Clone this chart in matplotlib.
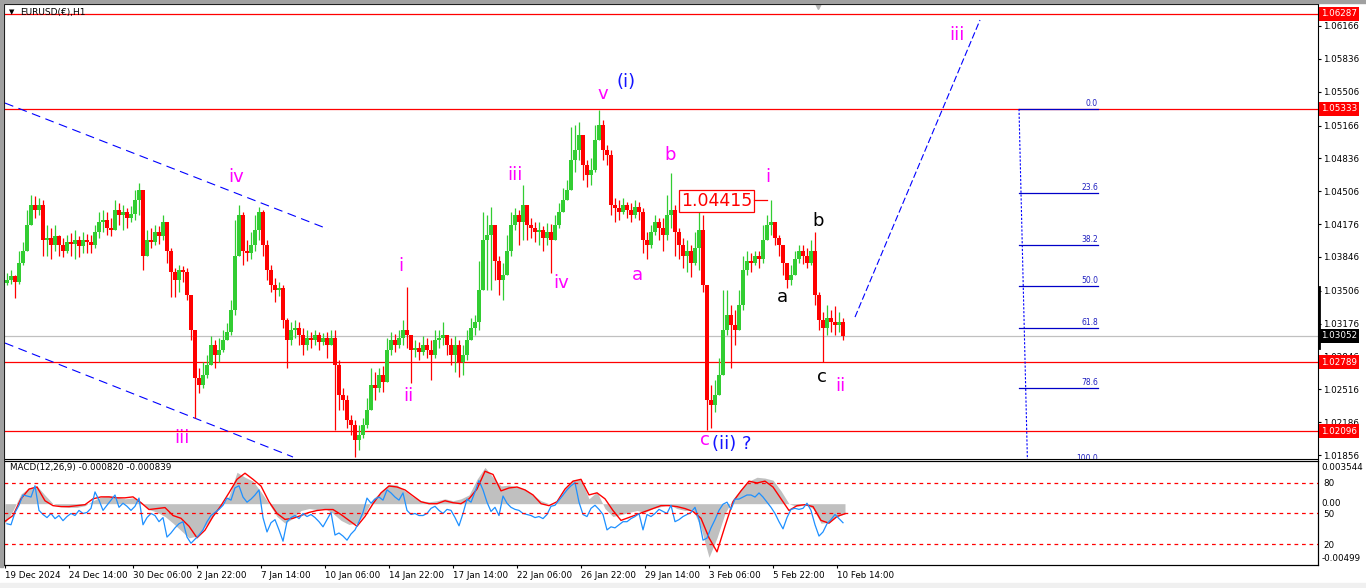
import numpy as np
import matplotlib.pyplot as plt
import matplotlib.transforms as mtransforms
from matplotlib.patches import Rectangle

W, H = 1366, 588

# EURUSD H1 in 4-bar steps (open = previous close)
first_open = 1.0358
close = [
    1.0361, 1.0365, 1.0359, 1.0379, 1.0391, 1.0417, 1.0437, 1.0432, 1.0437, 1.0402,
    1.0404, 1.0397, 1.0406, 1.0397, 1.0391, 1.0400, 1.0398, 1.0402, 1.0396, 1.0402,
    1.0400, 1.0397, 1.0410, 1.0420, 1.0422, 1.0414, 1.0412, 1.0432, 1.0427, 1.0430,
    1.0424, 1.0428, 1.0442, 1.0452, 1.0386, 1.0402, 1.0400, 1.0410, 1.0406, 1.0420,
    1.0391, 1.0369, 1.0361, 1.0371, 1.0369, 1.0346, 1.0311, 1.0263, 1.0256, 1.0266,
    1.0276, 1.0296, 1.0286, 1.0291, 1.0301, 1.0309, 1.0331, 1.0386, 1.0427, 1.0391,
    1.0389, 1.0397, 1.0412, 1.0430, 1.0397, 1.0371, 1.0356, 1.0351, 1.0353, 1.0321,
    1.0301, 1.0311, 1.0313, 1.0306, 1.0296, 1.0303, 1.0301, 1.0306, 1.0299, 1.0303,
    1.0296, 1.0303, 1.0276, 1.0246, 1.0241, 1.0221, 1.0216, 1.0201, 1.0206, 1.0216,
    1.0231, 1.0256, 1.0253, 1.0266, 1.0259, 1.0291, 1.0301, 1.0296, 1.0303, 1.0311,
    1.0306, 1.0291, 1.0293, 1.0289, 1.0296, 1.0291, 1.0286, 1.0301, 1.0303, 1.0306,
    1.0296, 1.0286, 1.0296, 1.0279, 1.0286, 1.0301, 1.0313, 1.0319, 1.0351, 1.0402,
    1.0407, 1.0417, 1.0381, 1.0361, 1.0366, 1.0391, 1.0417, 1.0427, 1.0420, 1.0437,
    1.0417, 1.0414, 1.0410, 1.0412, 1.0404, 1.0410, 1.0402, 1.0417, 1.0430, 1.0442,
    1.0452, 1.0482, 1.0492, 1.0507, 1.0477, 1.0467, 1.0472, 1.0502, 1.0517, 1.0492,
    1.0487, 1.0437, 1.0434, 1.0430, 1.0437, 1.0432, 1.0427, 1.0435, 1.0430, 1.0402,
    1.0397, 1.0410, 1.0420, 1.0414, 1.0407, 1.0427, 1.0432, 1.0410, 1.0397, 1.0386,
    1.0391, 1.0379, 1.0394, 1.0412, 1.0356, 1.0241, 1.0236, 1.0246, 1.0266, 1.0311,
    1.0326, 1.0316, 1.0311, 1.0336, 1.0371, 1.0381, 1.0379, 1.0386, 1.0383, 1.0402,
    1.0417, 1.0420, 1.0404, 1.0397, 1.0379, 1.0361, 1.0366, 1.0383, 1.0391, 1.0386,
    1.0379, 1.0391, 1.0346, 1.0321, 1.0313, 1.0323, 1.0319, 1.0316, 1.0319, 1.0305,
]
high = [
    1.0368, 1.0371, 1.0366, 1.0391, 1.0400, 1.0432, 1.0447, 1.0446, 1.0444, 1.0442,
    1.0417, 1.0414, 1.0417, 1.0407, 1.0404, 1.0407, 1.0409, 1.0412, 1.0406, 1.0410,
    1.0408, 1.0407, 1.0417, 1.0430, 1.0432, 1.0430, 1.0424, 1.0442, 1.0439, 1.0437,
    1.0434, 1.0436, 1.0452, 1.0459, 1.0452, 1.0412, 1.0414, 1.0417, 1.0416, 1.0427,
    1.0420, 1.0394, 1.0373, 1.0376, 1.0375, 1.0373, 1.0341, 1.0311, 1.0273, 1.0279,
    1.0286, 1.0305, 1.0301, 1.0303, 1.0311, 1.0318, 1.0341, 1.0422, 1.0437, 1.0430,
    1.0402, 1.0410, 1.0427, 1.0435, 1.0432, 1.0402, 1.0376, 1.0363, 1.0359, 1.0356,
    1.0323, 1.0319, 1.0321, 1.0319, 1.0313, 1.0311, 1.0309, 1.0311, 1.0309, 1.0308,
    1.0309, 1.0311, 1.0311, 1.0281, 1.0253, 1.0246, 1.0226, 1.0221, 1.0216, 1.0223,
    1.0243, 1.0273, 1.0269, 1.0273, 1.0275, 1.0303, 1.0309, 1.0307, 1.0311, 1.0321,
    1.0354, 1.0306, 1.0301, 1.0299, 1.0305, 1.0303, 1.0301, 1.0311, 1.0311, 1.0319,
    1.0306, 1.0303, 1.0305, 1.0301, 1.0296, 1.0311, 1.0323, 1.0326, 1.0381, 1.0430,
    1.0427, 1.0435, 1.0397, 1.0386, 1.0379, 1.0407, 1.0430, 1.0434, 1.0432, 1.0457,
    1.0437, 1.0424, 1.0420, 1.0420, 1.0416, 1.0419, 1.0418, 1.0427, 1.0439, 1.0454,
    1.0462, 1.0515, 1.0517, 1.0520, 1.0502, 1.0482, 1.0484, 1.0517, 1.0532, 1.0522,
    1.0497, 1.0492, 1.0444, 1.0442, 1.0444, 1.0440, 1.0439, 1.0442, 1.0440, 1.0434,
    1.0410, 1.0417, 1.0427, 1.0424, 1.0424, 1.0447, 1.0469, 1.0437, 1.0414, 1.0404,
    1.0402, 1.0397, 1.0410, 1.0435, 1.0427, 1.0269, 1.0256, 1.0261, 1.0283, 1.0351,
    1.0351, 1.0336, 1.0331, 1.0351, 1.0386, 1.0391, 1.0389, 1.0391, 1.0391, 1.0417,
    1.0427, 1.0442, 1.0417, 1.0407, 1.0397, 1.0376, 1.0376, 1.0391, 1.0397, 1.0397,
    1.0394, 1.0402, 1.0410, 1.0349, 1.0329, 1.0336, 1.0331, 1.0335, 1.0329, 1.0323,
]
low = [
    1.0356, 1.0357, 1.0343, 1.0357, 1.0376, 1.0391, 1.0427, 1.0424, 1.0427, 1.0386,
    1.0386, 1.0383, 1.0391, 1.0386, 1.0385, 1.0389, 1.0386, 1.0383, 1.0385, 1.0389,
    1.0389, 1.0389, 1.0394, 1.0404, 1.0410, 1.0407, 1.0406, 1.0412, 1.0417, 1.0412,
    1.0414, 1.0420, 1.0422, 1.0427, 1.0371, 1.0389, 1.0394, 1.0397, 1.0398, 1.0402,
    1.0379, 1.0344, 1.0344, 1.0349, 1.0359, 1.0341, 1.0301, 1.0223, 1.0248, 1.0253,
    1.0263, 1.0281, 1.0273, 1.0279, 1.0289, 1.0301, 1.0306, 1.0326, 1.0386, 1.0376,
    1.0381, 1.0383, 1.0391, 1.0402, 1.0386, 1.0361, 1.0349, 1.0339, 1.0345, 1.0313,
    1.0273, 1.0296, 1.0303, 1.0296, 1.0286, 1.0291, 1.0293, 1.0296, 1.0291, 1.0296,
    1.0283, 1.0296, 1.0211, 1.0231, 1.0231, 1.0213, 1.0206, 1.0184, 1.0191, 1.0203,
    1.0213, 1.0236, 1.0241, 1.0249, 1.0249, 1.0266, 1.0286, 1.0289, 1.0293, 1.0296,
    1.0293, 1.0258, 1.0284, 1.0281, 1.0286, 1.0283, 1.0261, 1.0283, 1.0293, 1.0296,
    1.0286, 1.0276, 1.0269, 1.0264, 1.0266, 1.0281, 1.0301, 1.0306, 1.0311, 1.0376,
    1.0351, 1.0351, 1.0361, 1.0346, 1.0341, 1.0366, 1.0386, 1.0412, 1.0397, 1.0402,
    1.0402, 1.0404, 1.0400, 1.0397, 1.0391, 1.0397, 1.0368, 1.0402, 1.0414, 1.0432,
    1.0442, 1.0457, 1.0470, 1.0482, 1.0462, 1.0455, 1.0457, 1.0470, 1.0502, 1.0482,
    1.0477, 1.0427, 1.0420, 1.0422, 1.0428, 1.0424, 1.0420, 1.0424, 1.0422, 1.0389,
    1.0383, 1.0394, 1.0407, 1.0402, 1.0391, 1.0402, 1.0414, 1.0386, 1.0383, 1.0373,
    1.0369, 1.0364, 1.0376, 1.0371, 1.0349, 1.0211, 1.0213, 1.0229, 1.0246, 1.0276,
    1.0306, 1.0273, 1.0296, 1.0316, 1.0331, 1.0366, 1.0369, 1.0376, 1.0373, 1.0379,
    1.0402, 1.0407, 1.0397, 1.0386, 1.0366, 1.0353, 1.0356, 1.0371, 1.0379, 1.0377,
    1.0373, 1.0376, 1.0336, 1.0311, 1.0279, 1.0306, 1.0309, 1.0306, 1.0309, 1.0301,
]

# MACD(12,26,9) main (grey histogram) and signal (red), every 8 bars
macd_main = [
    -0.00160, -0.00056, 0.00080, 0.00130, 0.00145, 0.00070, 0.00000, -0.00024, -0.00030, -0.00030,
    -0.00016, 0.00024, 0.00056, 0.00064, 0.00056, 0.00040, 0.00048, 0.00016, -0.00048, -0.00070,
    -0.00105, -0.00160, -0.00220, -0.00280, -0.00266, -0.00185, -0.00105, -0.00016, 0.00064, 0.00258,
    0.00217, 0.00185, 0.00097, 0.00000, -0.00105, -0.00160, -0.00120, -0.00056, -0.00040, -0.00048,
    -0.00040, -0.00080, -0.00137, -0.00170, -0.00160, -0.00080, 0.00040, 0.00097, 0.00160, 0.00153,
    0.00105, 0.00056, 0.00024, 0.00016, 0.00024, 0.00040, 0.00024, 0.00040, 0.00072, 0.00200,
    0.00298, 0.00217, 0.00145, 0.00153, 0.00137, 0.00120, 0.00072, 0.00024, 0.00000, 0.00008,
    0.00120, 0.00193, 0.00200, 0.00040, 0.00097, -0.00040, -0.00105, -0.00089, -0.00072, -0.00056,
    -0.00072, -0.00040, -0.00024, -0.00008, -0.00040, -0.00056, -0.00048, -0.00200, -0.00440, -0.00280,
    -0.00080, 0.00040, 0.00120, 0.00185, 0.00217, 0.00210, 0.00193, 0.00105, 0.00000, -0.00024,
    -0.00008, -0.00040, -0.00160, -0.00153, -0.00105, -0.00082,
]
macd_signal = [
    -0.00145, -0.00097, 0.00040, 0.00120, 0.00137, 0.00024, -0.00016, -0.00024, -0.00024, -0.00016,
    -0.00008, 0.00040, 0.00056, 0.00056, 0.00048, 0.00048, 0.00056, 0.00008, -0.00048, -0.00040,
    -0.00032, -0.00097, -0.00120, -0.00185, -0.00280, -0.00217, -0.00105, -0.00016, 0.00089, 0.00200,
    0.00250, 0.00200, 0.00145, 0.00016, -0.00080, -0.00129, -0.00120, -0.00097, -0.00072, -0.00056,
    -0.00048, -0.00048, -0.00089, -0.00137, -0.00185, -0.00105, 0.00000, 0.00089, 0.00145, 0.00137,
    0.00113, 0.00064, 0.00016, 0.00000, 0.00000, 0.00024, 0.00008, 0.00000, 0.00040, 0.00120,
    0.00266, 0.00240, 0.00105, 0.00129, 0.00137, 0.00113, 0.00072, 0.00000, -0.00016, 0.00016,
    0.00120, 0.00185, 0.00200, 0.00072, 0.00089, 0.00040, -0.00056, -0.00137, -0.00113, -0.00089,
    -0.00064, -0.00040, -0.00016, -0.00016, -0.00024, -0.00040, -0.00064, -0.00120, -0.00280, -0.00395,
    -0.00185, 0.00016, 0.00105, 0.00185, 0.00170, 0.00185, 0.00137, 0.00040, -0.00056, -0.00016,
    -0.00008, -0.00024, -0.00137, -0.00160, -0.00105, -0.00082,
]
# blue oscillator drawn in the same window (0..100 scale), every 4 bars
osc_blue = [
    40, 39, 51, 58, 68, 67, 66, 77, 53, 49,
    46, 50, 45, 48, 43, 47, 50, 48, 53, 50,
    51, 55, 71, 63, 53, 58, 63, 68, 56, 60,
    57, 53, 57, 65, 39, 46, 50, 48, 42, 46,
    27, 31, 36, 40, 42, 27, 21, 25, 29, 34,
    42, 48, 51, 54, 58, 65, 63, 75, 77, 66,
    61, 64, 68, 73, 46, 32, 41, 44, 34, 23,
    42, 46, 48, 45, 50, 47, 49, 46, 42, 37,
    44, 51, 29, 31, 28, 24, 30, 34, 42, 51,
    65, 60, 64, 66, 63, 73, 70, 66, 63, 70,
    53, 49, 50, 48, 48, 50, 55, 57, 53, 50,
    54, 53, 46, 38, 50, 64, 61, 71, 82, 73,
    61, 52, 56, 48, 67, 60, 56, 54, 53, 50,
    49, 48, 46, 47, 45, 49, 57, 58, 63, 68,
    73, 77, 80, 61, 49, 47, 55, 58, 54, 49,
    34, 37, 36, 39, 42, 42, 45, 47, 50, 34,
    49, 47, 50, 54, 52, 50, 58, 42, 44, 47,
    49, 51, 56, 44, 24, 26, 36, 44, 53, 59,
    61, 54, 64, 64, 66, 68, 68, 66, 70, 66,
    61, 56, 50, 42, 35, 46, 54, 55, 54, 55,
    60, 53, 39, 28, 32, 40, 44, 49, 45, 41,
]

date_labels = ["19 Dec 2024", "24 Dec 14:00", "30 Dec 06:00", "2 Jan 22:00", "7 Jan 14:00",
               "10 Jan 06:00", "14 Jan 22:00", "17 Jan 14:00", "22 Jan 06:00", "26 Jan 22:00",
               "29 Jan 14:00", "3 Feb 06:00", "5 Feb 22:00", "10 Feb 14:00"]
price_ticks = [1.06166, 1.05836, 1.05506, 1.05166, 1.04836, 1.04506, 1.04176,
               1.03846, 1.03506, 1.03176, 1.02846, 1.02516, 1.02186, 1.01856]
red_levels = [1.06287, 1.05333, 1.02789, 1.02096]
last_price = 1.03052
fib_high, fib_low = 1.05333, 1.01767
fib_levels = [0.0, 23.6, 38.2, 50.0, 61.8, 78.6, 100.0]

# wave labels: text, bar position, price, colour
MAG, BLU = "#ff00ff", "#1414ff"
waves = [
    ("iv", 231, 1.04649, MAG), ("iii", 177, 1.02027, MAG), ("i", 396, 1.03755, MAG),
    ("ii", 403, 1.02449, MAG), ("iii", 510, 1.04669, MAG), ("iv", 556, 1.03584, MAG),
    ("v", 598, 1.05483, MAG), ("(i)", 621, 1.05603, BLU), ("b", 665, 1.04870, MAG),
    ("a", 632, 1.03664, MAG), ("c", 700, 1.02007, MAG), ("(ii) ?", 727, 1.01967, BLU),
    ("i", 763, 1.04649, MAG), ("b", 813, 1.04207, "black"), ("a", 777, 1.03443, "black"),
    ("c", 817, 1.02640, "black"), ("ii", 835, 1.02549, MAG), ("iii", 952, 1.06075, MAG),
]


def frac(l, t, r, b):
    return [l / W, 1 - b / H, (r - l) / W, (b - t) / H]


fig = plt.figure(figsize=(W / 100, H / 100), dpi=100)
fig.patches.append(Rectangle((0, 0), 1, 1, transform=fig.transFigure, color="white", zorder=-10))
fig.patches.append(Rectangle((0, 1 - 3 / H), 1, 3 / H, transform=fig.transFigure, color="#a0a0a0"))
fig.patches.append(Rectangle((0, 1 - 567 / H), 3 / W, 567 / H, transform=fig.transFigure, color="#a0a0a0"))
fig.patches.append(Rectangle((0, 0), 1, 5 / H, transform=fig.transFigure, color="#f0f0f0"))

ax = fig.add_axes(frac(3.5, 3.5, 1317.5, 458.5))
axm = fig.add_axes(frac(3.5, 460.5, 1317.5, 564.5), sharex=ax)

# ---- candles
c = np.array(close)
o = np.r_[first_open, c[:-1]]
hi = np.maximum(np.array(high), np.maximum(o, c))
lo = np.minimum(np.array(low), np.minimum(o, c))
xc = np.arange(len(c)) * 4 + 2
cols = np.where(c >= o, "#32cd32", "#ff0000")
ax.vlines(xc, lo, hi, colors=cols, lw=0.9, zorder=3)
ax.bar(xc, np.maximum(np.abs(c - o), 0.00004), bottom=np.minimum(o, c), width=3.2,
       color=cols, linewidth=0, zorder=3)

for lv in red_levels:
    ax.axhline(lv, color="red", lw=0.9, zorder=2)
ax.axhline(last_price, color="#c0c0c0", lw=0.9, zorder=1)

# channel and projection
ax.plot([0, 323], [1.05392, 1.04126], color="blue", lw=0.8, dashes=(8, 5))
ax.plot([0, 288], [1.02981, 1.01836], color="blue", lw=0.8, dashes=(8, 5))
ax.plot([850, 975], [1.03242, 1.06226], color="blue", lw=0.8, dashes=(6, 2.5))

# fibonacci retracement
for lev in fib_levels:
    p = fib_high - (fib_high - fib_low) * lev / 100
    ax.plot([1014, 1093], [p, p], color="#0000c8", lw=0.9, zorder=2.5)
    ax.text(1093, p + 0.0001, f"{lev:.1f}", ha="right", va="bottom", fontsize=5.5,
            color="#2020c0", clip_on=True)
ax.plot([1014, 1022.5], [fib_high, fib_low], color="blue", lw=0.8, dashes=(2, 1.5))

# wave counts
for txt, xx, yy, col in waves:
    ax.text(xx, yy, txt, color=col, fontsize=13, ha="center", va="center", zorder=6)
ax.text(711.5, 1.04408, "1.04415", color="red", fontsize=12.5, ha="center", va="center",
        bbox=dict(boxstyle="square,pad=0.12", fc="white", ec="red", lw=0.9), zorder=6)
ax.plot([749, 762], [1.04415, 1.04415], color="red", lw=0.9, zorder=6)

ax.set_xlim(-1.5, 1312.5)
ax.set_ylim(1.01821, 1.06392)
ax.yaxis.tick_right()
ax.set_yticks(price_ticks)
ax.set_yticklabels([f"{t:.5f}" for t in price_ticks])
ax.tick_params(axis="y", length=2.2, width=0.8, labelsize=6.3, pad=1.8)
ax.tick_params(axis="x", bottom=False, labelbottom=False)
for s in ax.spines.values():
    s.set_linewidth(0.8)

trans = mtransforms.blended_transform_factory(ax.transAxes, ax.transData)
for lv in red_levels:
    ax.text(1.0027, lv, f"{lv:.5f}", transform=trans, ha="left", va="center", fontsize=6.3,
            color="white", bbox=dict(boxstyle="square,pad=0.25", fc="red", ec="none"),
            clip_on=False, zorder=7)
ax.text(1.0027, last_price, f"{last_price:.5f}", transform=trans, ha="left", va="center",
        fontsize=6.3, color="white", bbox=dict(boxstyle="square,pad=0.25", fc="black", ec="none"),
        clip_on=False, zorder=7)
ax.plot([1.0009, 1.0009], [1.0354, 1.0293], transform=trans, color="black", lw=2,
        clip_on=False, zorder=6)

ax.text(0.0042, 0.981, "▼", transform=ax.transAxes, fontsize=5, va="center", ha="left")
ax.text(0.0125, 0.981, "EURUSD(€),H1", transform=ax.transAxes, fontsize=6.5, va="center", ha="left")
ax.plot([0.6199], [0.995], marker="v", ms=5, color="#b4b4b4", transform=ax.transAxes, clip_on=False)

# ---- MACD window
xm = np.arange(len(macd_main)) * 8
axm.fill_between(xm, 0, macd_main, color="#c0c0c0", lw=0, zorder=1)
axm.plot(xm, macd_signal, color="red", lw=1, zorder=3)
axm.set_ylim(-0.00499, 0.003544)
axm.set_yticks([])
axo = axm.twinx()
xo = np.arange(len(osc_blue)) * 4 + 2
axo.plot(xo, osc_blue, color="#1e90ff", lw=0.9)
for lv in (80, 50, 20):
    axo.axhline(lv, color="red", lw=0.9, dashes=(3, 3))
axo.set_ylim(0.3, 101.6)
axo.set_yticks([80, 50, 20])
axo.tick_params(axis="y", length=0, labelsize=6.3, pad=4)
axm.set_xlim(-1.5, 1312.5)

mt = mtransforms.blended_transform_factory(axm.transAxes, axm.transData)
axm.text(1.003, 0.931, "0.003544", transform=axm.transAxes, fontsize=6.3, va="center")
axm.text(1.003, 0.053, "-0.00499", transform=axm.transAxes, fontsize=6.3, va="center")
axm.text(1.003, 0.00003, "0.00", transform=mt, fontsize=6.3, va="center")
axm.text(0.005, 0.928, "MACD(12,26,9) -0.000820 -0.000839", transform=axm.transAxes,
         fontsize=6.3, va="center", zorder=5)

axm.set_xticks(np.arange(len(date_labels)) * 64)
axm.set_xticklabels(date_labels, ha="left")
axm.tick_params(axis="x", length=2.5, width=0.8, labelsize=6.3, pad=2.5)
for a in (axm, axo):
    for s in a.spines.values():
        s.set_linewidth(0.8)

fig.savefig("out.png", dpi=100)
